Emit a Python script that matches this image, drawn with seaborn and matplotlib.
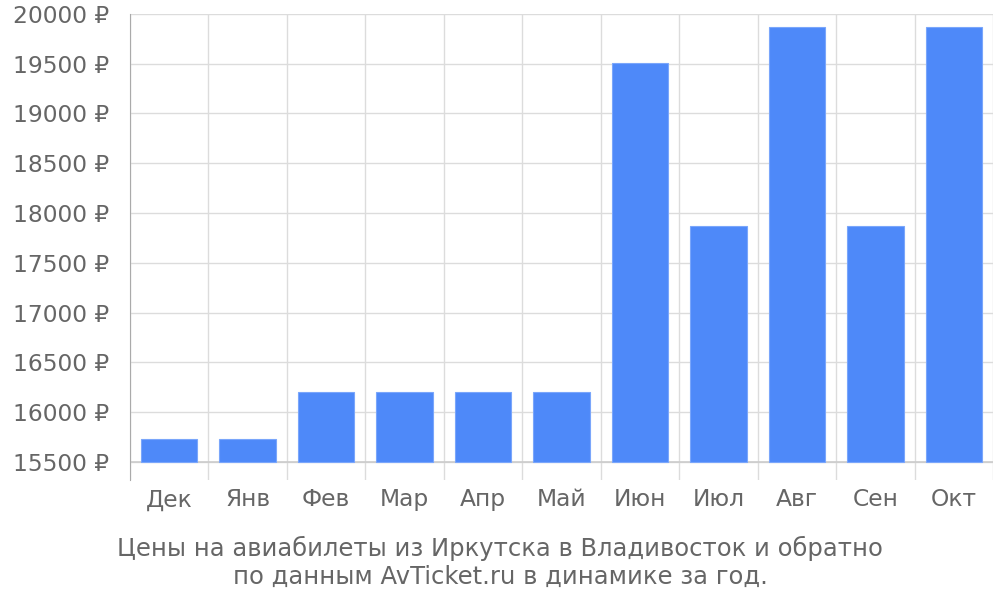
import matplotlib
matplotlib.use("Agg")
import matplotlib.pyplot as plt
import seaborn as sns
import numpy as np

months = ["Дек", "Янв", "Фев", "Мар", "Апр", "Май", "Июн", "Июл", "Авг", "Сен", "Окт"]
prices = [15730, 15730, 16200, 16200, 16200, 16200, 19510, 17870, 19870, 17870, 19870]
base = 15500
yticks = [15500, 16000, 16500, 17000, 17500, 18000, 18500, 19000, 19500, 20000]

sns.set_style("white")
plt.rcParams['font.family'] = ['DejaVu Sans']

fig = plt.figure(figsize=(10, 6), dpi=100)
ax = fig.add_axes([0.13, 0.2, 0.863, 0.777])

heights = [p - base for p in prices]
sns.barplot(x=months, y=heights, bottom=base, color="#4e89f9", saturation=1,
            width=0.72, ax=ax, zorder=3, edgecolor="#7aa6fb", linewidth=0.8)

ax.set_ylim(15319, 20000)
ax.set_xlim(-0.5, len(months) - 0.5)
ax.set_yticks(yticks)
ax.set_yticklabels([f"{v} ₽" for v in yticks])
ax.set_xticks(range(len(months)))
ax.set_xticklabels(months)
ax.set_xticks(np.arange(-0.5, len(months), 1), minor=True)

ax.grid(axis="y", which="major", color="#dcdcdc", linewidth=1, zorder=0)
ax.grid(axis="x", which="minor", color="#dcdcdc", linewidth=1, zorder=0)
ax.grid(axis="x", which="major", visible=False)
ax.axhline(base, color="#cccccc", linewidth=1.2, zorder=2)

ax.tick_params(axis="y", length=14, color="#dcdcdc", labelsize=16.8, labelcolor="#666666", pad=1)
ax.tick_params(axis="x", which="major", length=0, labelsize=16.8, labelcolor="#666666", pad=6)
ax.tick_params(axis="x", which="minor", length=0)

for s in ["top", "right", "bottom"]:
    ax.spines[s].set_visible(False)
ax.spines["left"].set_color("#aaaaaa")
ax.set_xlabel("")
ax.set_ylabel("")

fig.text(0.5, 0.063, "Цены на авиабилеты из Иркутска в Владивосток и обратно\nпо данным AvTicket.ru в динамике за год.",
         ha="center", va="center", fontsize=17.5, color="#666666", linespacing=1.2)

fig.savefig("out.png", dpi=100)
